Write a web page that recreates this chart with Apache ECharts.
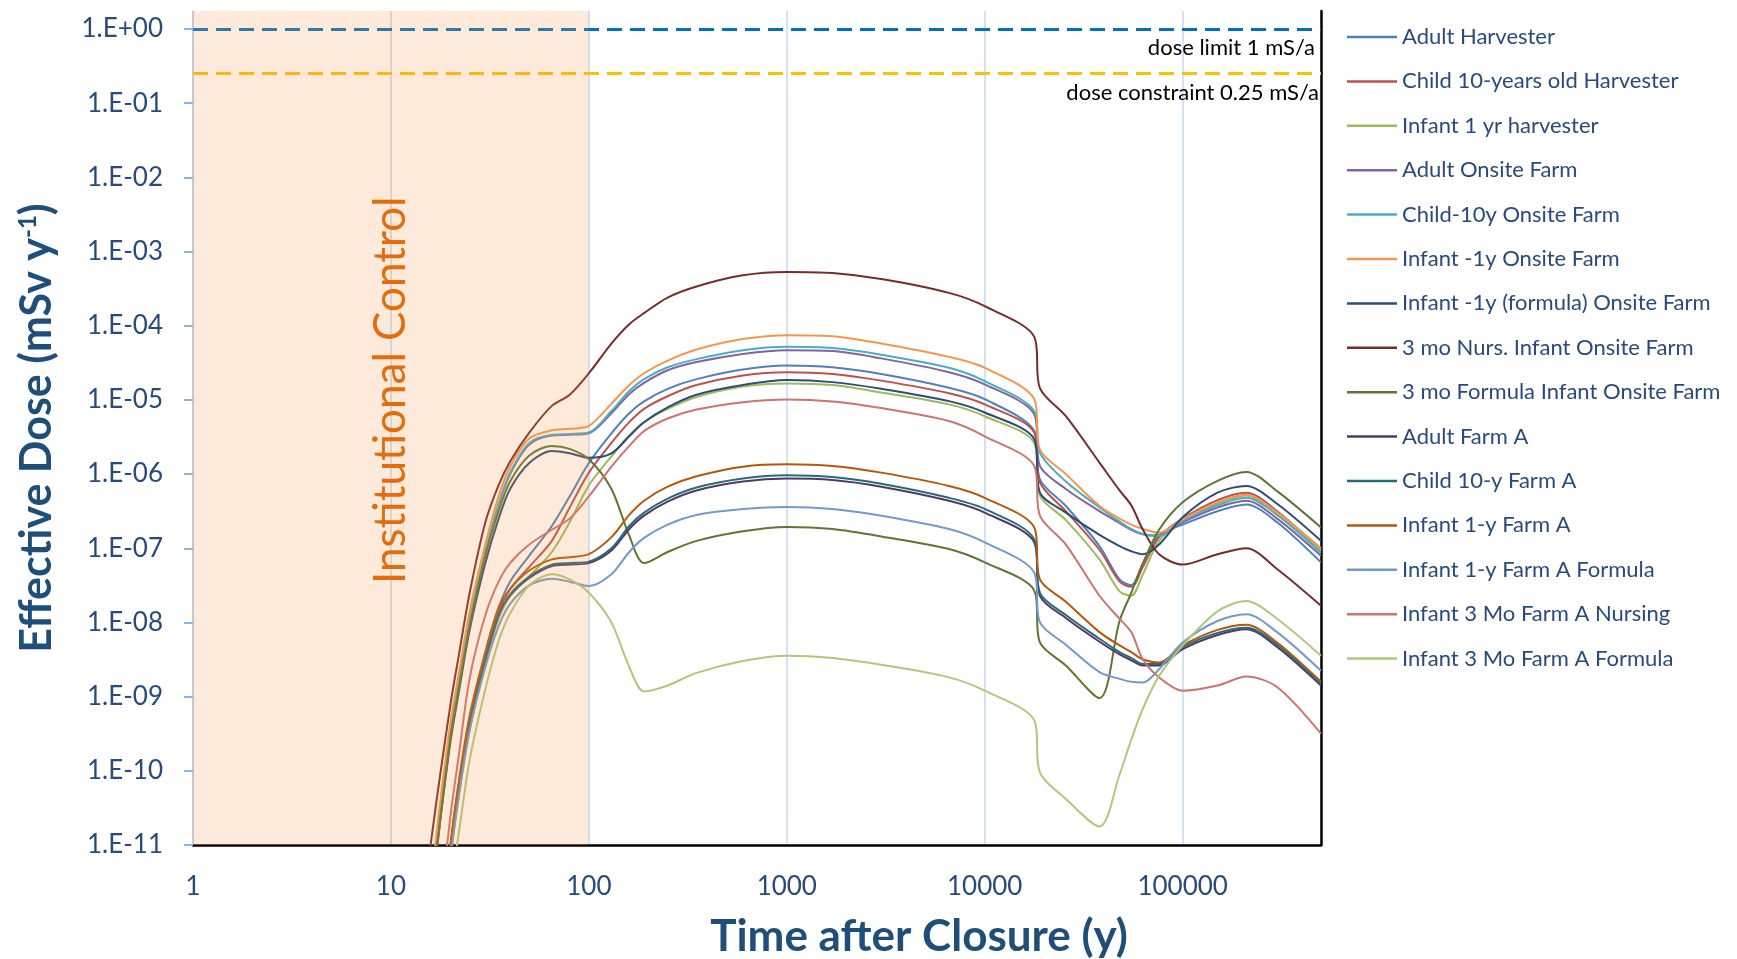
<!DOCTYPE html>
<html>
<head>
<meta charset="utf-8">
<script src="https://cdn.jsdelivr.net/npm/echarts@6/dist/echarts.min.js"></script>
<style>
  html, body { margin: 0; padding: 0; background: #fff; }
  #chart { width: 1737px; height: 959px; }
</style>
</head>
<body>
<div id="chart"></div>
<script>
// time after closure (y), shared by every series
const years = [15, 17, 20, 22, 25, 30, 35, 40, 50, 65, 80, 100, 130, 160, 190, 250, 350, 600, 1000,
  1700, 3000, 6600, 10000, 17800, 19000, 25700, 38000, 48000, 55000, 63000, 76000,
  100000, 150000, 210000, 300000, 500000];

// dose, kept as log10(mSv/y)
const adultHarvester = [-14, -12.6, -11.0, -10.2, -9.3, -8.4, -7.8, -7.45, -7.1, -6.7, -6.3, -5.85, -5.45, -5.18, -5.02, -4.85, -4.72, -4.59, -4.536,
  -4.56, -4.65, -4.836, -4.99, -5.42, -6.07, -6.43, -6.97, -7.42, -7.5, -7.2, -6.82, -6.68, -6.5, -6.41, -6.65, -7.19];
const childHarvester = [-14.2, -12.8, -11.0, -10.2, -9.3, -8.45, -7.85, -7.55, -7.25, -6.9, -6.45, -5.98, -5.58, -5.3, -5.12, -4.95, -4.8, -4.67, -4.626,
  -4.65, -4.74, -4.91, -5.06, -5.44, -6.11, -6.5, -7.02, -7.45, -7.52, -7.25, -6.85, -6.6, -6.35, -6.25, -6.5, -7.02];
const infantHarvester = [-14.4, -12.9, -11.15, -10.35, -9.45, -8.55, -7.95, -7.65, -7.38, -7.05, -6.65, -6.15, -5.76, -5.48, -5.3, -5.12, -4.96, -4.82, -4.778,
  -4.8, -4.9, -5.06, -5.22, -5.58, -6.29, -6.62, -7.15, -7.58, -7.64, -7.35, -6.9, -6.62, -6.4, -6.29, -6.52, -7.03];
const adultOnsite = [-12.4, -11.0, -9.5, -8.82, -7.97, -7.07, -6.42, -6.0, -5.6, -5.48, -5.47, -5.45, -5.18, -4.92, -4.77, -4.6, -4.49, -4.38, -4.33,
  -4.34, -4.44, -4.626, -4.79, -5.195, -5.89, -6.2, -6.5, -6.66, -6.75, -6.81, -6.83, -6.65, -6.45, -6.36, -6.6, -7.1];
const childOnsite = [-12.4, -11.0, -9.5, -8.8, -7.95, -7.05, -6.4, -5.98, -5.58, -5.47, -5.46, -5.44, -5.15, -4.88, -4.72, -4.56, -4.45, -4.33, -4.284,
  -4.3, -4.39, -4.567, -4.747, -5.15, -5.71, -6.1, -6.45, -6.64, -6.74, -6.81, -6.83, -6.63, -6.42, -6.32, -6.55, -7.06];
const infantOnsite = [-12.3, -10.85, -9.35, -8.7, -7.85, -6.95, -6.3, -5.9, -5.52, -5.41, -5.39, -5.35, -5.05, -4.8, -4.64, -4.47, -4.32, -4.18, -4.128,
  -4.14, -4.24, -4.42, -4.567, -4.99, -5.67, -6.0, -6.43, -6.6, -6.68, -6.74, -6.79, -6.61, -6.38, -6.28, -6.52, -7.0];
const infantFormulaOnsite = [-12.5, -11.1, -9.6, -8.95, -8.1, -7.2, -6.6, -6.2, -5.85, -5.69, -5.72, -5.78, -5.72, -5.49, -5.3, -5.1, -4.93, -4.8, -4.733,
  -4.76, -4.85, -5.016, -5.17, -5.53, -6.25, -6.52, -6.82, -6.97, -7.04, -7.08, -6.95, -6.58, -6.25, -6.16, -6.4, -6.9];
const nursInfantOnsite = [-11.5, -10.4, -9.1, -8.45, -7.6, -6.65, -6.15, -5.83, -5.44, -5.08, -4.93, -4.64, -4.24, -3.98, -3.83, -3.62, -3.47, -3.32, -3.275,
  -3.29, -3.37, -3.557, -3.737, -4.15, -4.84, -5.22, -5.845, -6.22, -6.42, -6.75, -7.08, -7.22, -7.08, -7.0, -7.28, -7.775];
const formulaInfantOnsite = [-12.5, -11.1, -9.55, -8.9, -8.05, -7.1, -6.5, -6.1, -5.75, -5.62, -5.66, -5.8, -6.2, -6.83, -7.2, -7.05, -6.9, -6.77, -6.712,
  -6.74, -6.84, -7.01, -7.19, -7.57, -8.27, -8.58, -9.02, -7.98, -7.6, -7.2, -6.75, -6.38, -6.09, -5.97, -6.23, -6.72];
const adultFarmA = [-14.6, -13.1, -11.1, -10.25, -9.35, -8.5, -7.9, -7.63, -7.4, -7.24, -7.22, -7.2, -7.03, -6.74, -6.56, -6.37, -6.22, -6.1, -6.06,
  -6.08, -6.17, -6.36, -6.52, -6.92, -7.64, -7.94, -8.26, -8.43, -8.51, -8.58, -8.58, -8.36, -8.17, -8.09, -8.33, -8.85];
const childFarmA = [-14.6, -13.1, -11.1, -10.25, -9.35, -8.5, -7.9, -7.62, -7.38, -7.22, -7.2, -7.18, -7.0, -6.7, -6.52, -6.33, -6.18, -6.06, -6.016,
  -6.04, -6.13, -6.32, -6.47, -6.88, -7.6, -7.9, -8.22, -8.4, -8.48, -8.56, -8.56, -8.33, -8.14, -8.07, -8.3, -8.83];
const infantFarmA = [-14.5, -13.0, -11.0, -10.15, -9.25, -8.4, -7.8, -7.55, -7.3, -7.15, -7.12, -7.08, -6.85, -6.55, -6.36, -6.17, -6.03, -5.9, -5.868,
  -5.89, -5.98, -6.16, -6.32, -6.72, -7.42, -7.72, -8.13, -8.31, -8.4, -8.5, -8.54, -8.31, -8.1, -8.03, -8.27, -8.8];
const infantFarmAFormula = [-14.7, -13.2, -11.2, -10.35, -9.45, -8.6, -8.05, -7.75, -7.5, -7.41, -7.45, -7.51, -7.35, -7.05, -6.86, -6.68, -6.55, -6.47, -6.443,
  -6.47, -6.56, -6.74, -6.92, -7.33, -8.0, -8.3, -8.67, -8.76, -8.8, -8.81, -8.63, -8.27, -7.98, -7.89, -8.13, -8.65];
const nursInfantFarmA = [-13.8, -12.3, -10.6, -9.8, -8.75, -7.9, -7.45, -7.2, -6.95, -6.75, -6.6, -6.3, -5.9, -5.62, -5.42, -5.25, -5.13, -5.03, -4.993,
  -5.02, -5.11, -5.285, -5.49, -5.89, -6.56, -6.95, -7.64, -7.95, -8.13, -8.5, -8.74, -8.92, -8.85, -8.73, -8.87, -9.5];
const formulaInfantFarmA = [-15, -13.6, -11.6, -10.85, -9.85, -8.9, -8.25, -7.88, -7.5, -7.35, -7.42, -7.6, -8.0, -8.6, -8.93, -8.85, -8.68, -8.52, -8.448,
  -8.48, -8.57, -8.74, -8.92, -9.32, -10.02, -10.38, -10.75, -10.05, -9.58, -9.16, -8.72, -8.31, -7.85, -7.71, -7.95, -8.45];

const seriesNames = ['Adult Harvester', 'Child 10-years old Harvester', 'Infant 1 yr harvester', 'Adult Onsite Farm',
  'Child-10y Onsite Farm', 'Infant -1y Onsite Farm', 'Infant -1y (formula) Onsite Farm', '3 mo Nurs. Infant Onsite Farm',
  '3 mo Formula Infant Onsite Farm', 'Adult Farm A', 'Child 10-y Farm A', 'Infant 1-y Farm A', 'Infant 1-y Farm A Formula',
  'Infant 3 Mo Farm A Nursing', 'Infant 3 Mo Farm A Formula'];
const seriesLogDose = [adultHarvester, childHarvester, infantHarvester, adultOnsite, childOnsite, infantOnsite,
  infantFormulaOnsite, nursInfantOnsite, formulaInfantOnsite, adultFarmA, childFarmA, infantFarmA,
  infantFarmAFormula, nursInfantFarmA, formulaInfantFarmA];
const seriesColors = ['#4f81bd', '#c0504d', '#9bbb59', '#8064a2', '#4bacc6', '#f79646', '#2c4d75', '#772c2a',
  '#5f7530', '#4d3b62', '#276a7c', '#b65708', '#729aca', '#cd7371', '#afc97a'];

const yTicks = [1e-11, 1e-10, 1e-9, 1e-8, 1e-7, 1e-6, 1e-5, 1e-4, 1e-3, 1e-2, 1e-1, 1];
const xTicks = [1, 10, 100, 1000, 10000, 100000];
const doseLimit = 1;
const doseConstraint = 0.25;
const controlEnd = 100;

const labelBlue = '#284b7c';
const titleBlue = '#1f4e79';

function sciLabel(v) {
  const e = Math.round(Math.log10(v));
  if (Math.abs(Math.log10(v) - e) > 1e-6) return '';
  const s = e < 0 ? '-' : '+';
  const a = Math.abs(e);
  return '1.E' + s + (a < 10 ? '0' + a : a);
}

const chart = echarts.init(document.getElementById('chart'));

const lines = seriesNames.map((name, i) => ({
  name: name,
  type: 'line',
  xAxisIndex: 0,
  yAxisIndex: 0,
  data: years.map((t, k) => [t, Math.pow(10, seriesLogDose[i][k])]),
  symbol: 'none',
  smooth: 0.3,
  clip: true,
  z: 2,
  lineStyle: { width: 2, color: seriesColors[i] },
  itemStyle: { color: seriesColors[i] }
}));

chart.setOption({
  animation: false,
  textStyle: { fontFamily: 'Lato' },
  grid: { left: 193, right: 416, top: 11, bottom: 114, containLabel: false, outerBoundsMode: 'none' },
  legend: {
    data: seriesNames,
    orient: 'vertical',
    left: 1342,
    top: 21,
    icon: 'rect',
    itemWidth: 50,
    itemHeight: 2.5,
    itemGap: 22.4,
    textStyle: { fontSize: 22, color: labelBlue, lineHeight: 22 }
  },
  xAxis: {
    type: 'log',
    logBase: 10,
    min: 1,
    max: 500000,
    name: 'Time after Closure (y)',
    nameLocation: 'middle',
    nameGap: 70,
    nameTextStyle: { fontSize: 44, fontWeight: 'bold', color: titleBlue, padding: [0, 0, 0, 324] },
    axisLine: { show: true, lineStyle: { color: '#000', width: 2.5 } },
    axisTick: { show: false },
    axisLabel: { customValues: xTicks, margin: 29, fontSize: 26, color: labelBlue,
      formatter: v => String(Math.round(v)) },
    splitLine: { show: true, lineStyle: { color: '#c6d9f1', width: 1.5 } }
  },
  yAxis: [{
    type: 'log',
    logBase: 10,
    min: 1e-11,
    max: 1.75,
    name: '{a|Effective Dose (mSv y}{b|-1}{a|)}',
    nameLocation: 'middle',
    nameGap: 134,
    nameTextStyle: {
      rich: {
        a: { fontSize: 43, fontWeight: 'bold', color: titleBlue, fontFamily: 'Lato' },
        b: { fontSize: 24, fontWeight: 'bold', color: titleBlue, fontFamily: 'Lato', verticalAlign: 'top', padding: [0, 0, 18, 0] }
      }
    },
    axisLine: { show: true, lineStyle: { color: '#b9c9dd', width: 1.5 } },
    axisTick: { show: true, customValues: yTicks, length: 9, lineStyle: { color: '#8db3e2', width: 2 } },
    axisLabel: { customValues: yTicks, margin: 30, fontSize: 26, color: labelBlue, formatter: sciLabel },
    splitLine: { show: false }
  }, {
    type: 'log',
    logBase: 10,
    min: 1e-11,
    max: 1.75,
    position: 'right',
    axisLine: { show: true, lineStyle: { color: '#000', width: 2.5 } },
    axisTick: { show: false },
    axisLabel: { show: false },
    splitLine: { show: false }
  }],
  series: [{
    name: 'limits',
    type: 'line',
    data: [],
    z: 1,
    silent: true,
    markLine: {
      silent: true,
      symbol: 'none',
      z: 1,
      data: [
        { yAxis: doseLimit,
          lineStyle: { color: '#0070c0', type: [15, 8], width: 3 },
          label: { formatter: 'dose limit 1 mS/a', position: 'insideEndBottom', color: '#000', fontSize: 22, distance: [6, 8] } },
        { yAxis: doseConstraint,
          lineStyle: { color: '#ffc000', type: [15, 8], width: 3 },
          label: { formatter: 'dose constraint 0.25 mS/a', position: 'insideEndBottom', color: '#000', fontSize: 22, distance: [2, 8] } }
      ]
    }
  }].concat(lines).concat([{
    name: 'control',
    type: 'line',
    data: [],
    z: 10,
    zlevel: 1,
    silent: true,
    markArea: {
      silent: true,
      z: 10,
      zlevel: 1,
      itemStyle: { color: 'rgba(247,150,70,0.2)' },
      data: [[{ xAxis: 1 }, { xAxis: controlEnd }]]
    },
    markPoint: {
      silent: true,
      z: 11,
      zlevel: 1,
      symbol: 'rect',
      symbolSize: 1,
      itemStyle: { color: 'rgba(0,0,0,0)' },
      label: { show: true, position: 'inside', rotate: 90, formatter: 'Institutional Control',
        fontSize: 44, color: '#e46c0a', fontFamily: 'Lato' },
      data: [{ coord: [10, 1.35e-5] }]
    }
  }])
});
</script>
</body>
</html>
